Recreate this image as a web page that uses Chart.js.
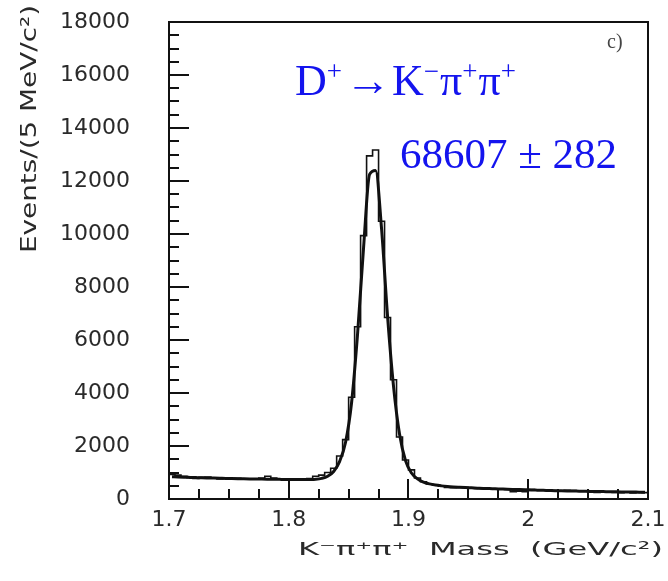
<!DOCTYPE html>
<html>
<head>
    <title>K- pi+ pi+ mass</title>
    <style>
        body {
            margin: 0;
            background-color: #fff;
        }
        canvas {
            display: block;
        }
    </style>
    <script src="https://cdn.jsdelivr.net/npm/chart.js@4"></script>
</head>
<body>
    <canvas id="massChart" width="668" height="581"></canvas>

    <script>
        // histogram binning, 5 MeV bins from 1.7 GeV
        var binStart = 1.7;
        var binWidth = 0.005;

        // events per bin (data histogram)
        var dataCounts = [
            930, 900, 860, 800, 780, 820, 830, 790, 760, 800,
            770, 780, 750, 760, 750, 790, 860, 790, 760, 750,
            750, 760, 750, 770, 860, 900, 1000, 1160, 1620, 2240,
            3840, 6500, 9940, 12950, 13170, 10480, 6850, 4500, 2340, 1470,
            1100, 790, 650, 570, 520, 480, 440, 430, 440, 430,
            420, 400, 390, 380, 370, 370, 360, 280, 290, 280,
            360, 350, 350, 340, 320, 310, 330, 320, 310, 290,
            260, 250, 270, 260, 250, 240, 270, 230, 250, 240
        ];

        // fitted curve, evaluated at bin centres
        var fitCounts = [
            840, 830, 822, 815, 808, 801, 795, 789, 783, 777,
            772, 767, 762, 758, 754, 750, 747, 744, 741, 738,
            736, 734, 733, 735, 745, 780, 860, 1040, 1420, 2150,
            3650, 6250, 9500, 12250, 12400, 10200, 6900, 4250, 2450, 1450,
            980, 760, 640, 570, 525, 495, 472, 455, 442, 430,
            420, 410, 400, 392, 384, 376, 368, 361, 354, 347,
            340, 334, 328, 322, 316, 311, 306, 301, 296, 291,
            287, 283, 279, 275, 271, 267, 264, 261, 258, 255
        ];

        var xTickValues = [1.7, 1.8, 1.9, 2.0, 2.1];
        var yTickValues = [0, 2000, 4000, 6000, 8000, 10000, 12000, 14000, 16000, 18000];

        var xTitle = 'K\u207B\u03C0\u207A\u03C0\u207A  Mass  (GeV/c\u00B2)';
        var yTitle = 'Events/(5 MeV/c\u00B2)';
        var decayParts = [
            { t: 'D' }, { t: '+', sup: true }, { t: '\u2192', w: 46 }, { t: 'K' }, { t: '\u2212', sup: true },
            { t: '\u03C0' }, { t: '+', sup: true }, { t: '\u03C0' }, { t: '+', sup: true }
        ];
        var yieldText = '68607 \u00B1 282';
        var panelLabel = 'c)';

        // build points: histogram at bin left edges (+ closing edge), fit at bin centres
        var histPoints = dataCounts.map(function (v, i) {
            return { x: binStart + i * binWidth, y: v };
        });
        histPoints.push({ x: binStart + dataCounts.length * binWidth, y: dataCounts[dataCounts.length - 1] });

        var fitPoints = fitCounts.map(function (v, i) {
            return { x: binStart + (i + 0.5) * binWidth, y: v };
        });

        var ink = '#111';
        var textInk = '#2a2a2a';

        var framePlugin = {
            id: 'frame',
            afterDraw: function (chart) {
                var ctx = chart.ctx;
                var a = chart.chartArea;
                var xs = chart.scales.x;
                var ys = chart.scales.y;
                ctx.save();

                // ticks pointing inward, ROOT style
                ctx.strokeStyle = ink;
                ctx.lineWidth = 2;
                ctx.beginPath();
                for (var k = 1; k < 16; k++) {
                    var px = Math.round(xs.getPixelForValue(1.7 + k * 0.025));
                    var len = (k % 4 === 0) ? 20 : 10;
                    ctx.moveTo(px, a.bottom);
                    ctx.lineTo(px, a.bottom - len);
                }
                for (var j = 1; j < 36; j++) {
                    var py = Math.round(ys.getPixelForValue(j * 500));
                    var len2 = (j % 4 === 0) ? 20 : 10;
                    ctx.moveTo(a.left, py);
                    ctx.lineTo(a.left + len2, py);
                }
                ctx.stroke();

                // frame
                ctx.strokeRect(a.left, a.top, a.right - a.left, a.bottom - a.top);

                // axis titles (stretched like the original pixel font)
                ctx.fillStyle = textInk;
                ctx.font = '21px "DejaVu Sans"';
                ctx.textBaseline = 'alphabetic';
                ctx.textAlign = 'left';
                var wy = ctx.measureText(yTitle).width;
                ctx.save();
                ctx.translate(36, 253);
                ctx.rotate(-Math.PI / 2);
                ctx.scale(248 / wy, 1);
                ctx.fillText(yTitle, 0, 0);
                ctx.restore();

                ctx.font = '18px "DejaVu Sans"';
                var wx = ctx.measureText(xTitle).width;
                ctx.save();
                ctx.translate(298, 555);
                ctx.scale(365 / wx, 1);
                ctx.fillText(xTitle, 0, 0);
                ctx.restore();

                // panel label
                ctx.fillStyle = '#444';
                ctx.font = '20px "Liberation Serif"';
                ctx.fillText(panelLabel, 607, 48);

                // decay annotation in blue
                ctx.fillStyle = '#1414ee';
                var size = 44, supSize = 27;
                var x = 295, y = 95;
                decayParts.forEach(function (p) {
                    ctx.font = (p.sup ? supSize : size) + 'px "Liberation Serif"';
                    var w = ctx.measureText(p.t).width;
                    if (p.w) {
                        // long arrow: stretch glyph to the reference width
                        ctx.save();
                        ctx.translate(x + 2, y);
                        ctx.scale(p.w / w, 1);
                        ctx.fillText(p.t, 0, 0);
                        ctx.restore();
                        x += p.w + 3;
                    } else {
                        ctx.fillText(p.t, x, p.sup ? y - 15 : y);
                        x += w + (p.sup ? 1 : 0);
                    }
                });
                ctx.font = '43px "Liberation Serif"';
                ctx.fillText(yieldText, 400, 168);

                ctx.restore();
            }
        };

        var massChart = new Chart(
            document.getElementById('massChart'),
            {
                type: 'line',
                data: {
                    datasets: [
                        {
                            label: 'data',
                            data: histPoints,
                            borderColor: ink,
                            borderWidth: 1.6,
                            stepped: true,
                            pointRadius: 0,
                            fill: false
                        },
                        {
                            label: 'fit',
                            data: fitPoints,
                            borderColor: ink,
                            borderWidth: 3,
                            cubicInterpolationMode: 'monotone',
                            pointRadius: 0,
                            fill: false
                        }
                    ]
                },
                options: {
                    responsive: false,
                    animation: false,
                    layout: {
                        padding: { top: 22, right: 20, left: 0, bottom: 0 }
                    },
                    plugins: {
                        legend: { display: false },
                        tooltip: { enabled: false },
                        title: { display: false }
                    },
                    scales: {
                        x: {
                            type: 'linear',
                            min: 1.7,
                            max: 2.1,
                            grid: { display: false, drawTicks: false },
                            border: { display: false },
                            afterBuildTicks: function (scale) {
                                scale.ticks = xTickValues.map(function (v) { return { value: v }; });
                            },
                            afterFit: function (scale) {
                                scale.height = 82;
                                scale.paddingLeft = 0;
                                scale.paddingRight = 0;
                            },
                            ticks: {
                                padding: 8,
                                color: textInk,
                                font: { family: 'DejaVu Sans', size: 22 },
                                maxRotation: 0,
                                autoSkip: false,
                                callback: function (v) {
                                    return String(Number(v.toFixed(1)));
                                }
                            }
                        },
                        y: {
                            min: 0,
                            max: 18000,
                            grid: { display: false, drawTicks: false },
                            border: { display: false },
                            afterBuildTicks: function (scale) {
                                scale.ticks = yTickValues.map(function (v) { return { value: v }; });
                            },
                            afterFit: function (scale) {
                                scale.width = 169;
                                scale.paddingTop = 0;
                                scale.paddingBottom = 0;
                            },
                            ticks: {
                                padding: 39,
                                color: textInk,
                                font: { family: 'DejaVu Sans', size: 22 },
                                autoSkip: false,
                                callback: function (v) {
                                    return String(v);
                                }
                            }
                        }
                    }
                },
                plugins: [framePlugin]
            }
        );
    </script>
</body>
</html>
